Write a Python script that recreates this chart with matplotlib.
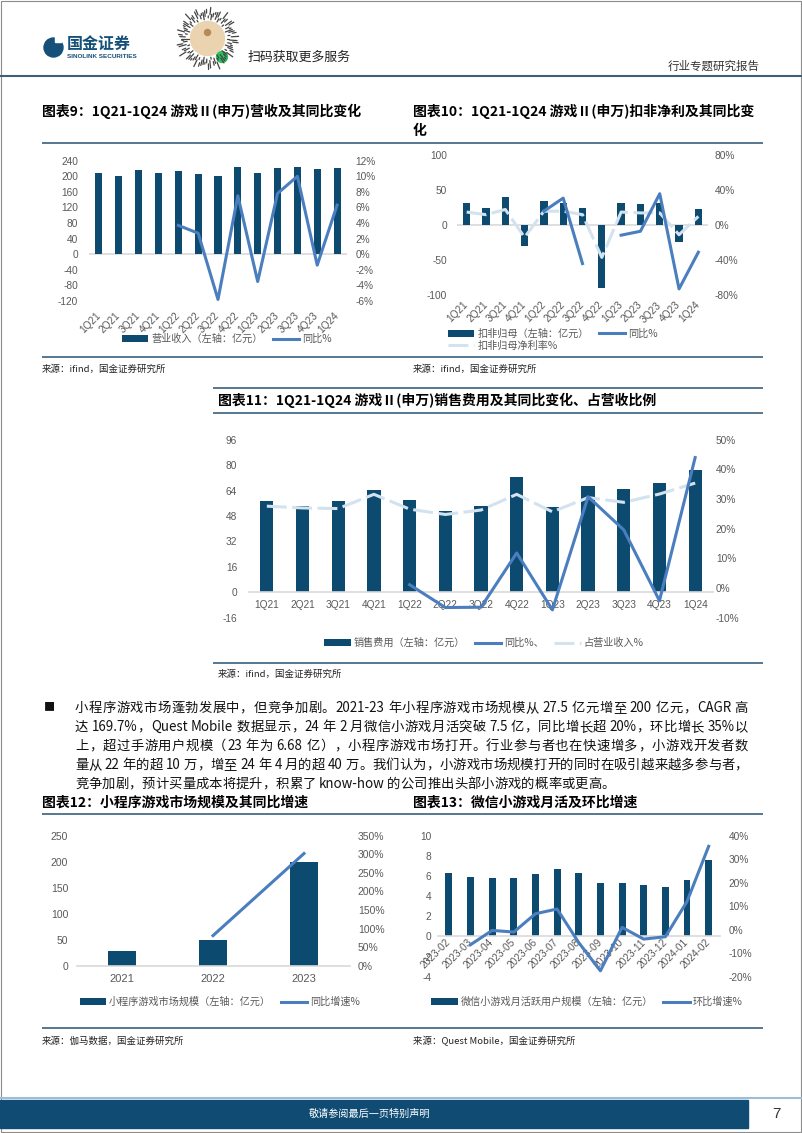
import re
import numpy as np
import matplotlib
matplotlib.use('Agg')
import matplotlib.pyplot as plt
from matplotlib.patches import Rectangle, Circle, Patch
from matplotlib.lines import Line2D

# ---------------- data ----------------
nan = np.nan
quarters = ['1Q21', '2Q21', '3Q21', '4Q21', '1Q22', '2Q22', '3Q22', '4Q22',
            '1Q23', '2Q23', '3Q23', '4Q23', '1Q24']
revenue = [208, 201, 215, 208, 214, 205, 202, 223, 208, 220, 223, 218, 220]
revenue_yoy = [nan, nan, nan, nan, 3.7, 2.7, -5.8, 7.5, -3.5, 7.8, 10.0, -1.4, 6.3]
np_ded = [31, 24, 41, -30, 35, 32, 24, -90, 32, 30, 32, -24, 22.5]
np_ded_yoy = [nan, nan, nan, nan, 16, 31, -44, nan, -11.5, -7, 36, -73, -31]
np_margin = [15, 12, 18, -14, 16, 16, 12, -37, 15, 14, 14, -11, 10]
sales_exp = [57.4, 54.2, 57.4, 64.4, 58.0, 51.0, 54.2, 72.3, 53.5, 67.0, 65.0, 69.0, 77.2]
sales_yoy = [nan, nan, nan, nan, 1.1, -6.6, -6.5, 11.8, -7.4, 30.8, 19.6, -4.3, 44.0]
sales_ratio = [27.6, 27.0, 26.8, 31.6, 26.6, 24.8, 26.3, 31.6, 25.7, 30.5, 28.9, 31.7, 35.4]
mini_years = ['2021', '2022', '2023']
mini_size = [27.5, 50, 200]
mini_yoy = [nan, 81, 302]
months = ['2023-02', '2023-03', '2023-04', '2023-05', '2023-06', '2023-07', '2023-08',
          '2023-09', '2023-10', '2023-11', '2023-12', '2024-01', '2024-02']
mau = [6.3, 5.9, 5.77, 5.77, 6.2, 6.67, 6.3, 5.27, 5.27, 5.07, 4.9, 5.6, 7.6]
mau_mom = [nan, -6.4, -0.3, -1.0, 6.8, 8.8, -5.5, -17.5, 1.0, -4.0, -3.0, 12.0, 35.5]

t9_left = [-120, -80, -40, 0, 40, 80, 120, 160, 200, 240]
t9_right = [-6, -4, -2, 0, 2, 4, 6, 8, 10, 12]
t10_left = [-100, -50, 0, 50, 100]
t10_right = [-80, -40, 0, 40, 80]
t11_left = [-16, 0, 16, 32, 48, 64, 80, 96]
t11_right = [-10, 0, 10, 20, 30, 40, 50]
t12_left = [0, 50, 100, 150, 200, 250]
t12_right = [0, 50, 100, 150, 200, 250, 300, 350]
t13_left = [-4, -2, 0, 2, 4, 6, 8, 10]
t13_right = [-20, -10, 0, 10, 20, 30, 40]

title9 = '图表9：1Q21-1Q24 游戏Ⅱ(申万)营收及其同比变化'
title10a = '图表10：1Q21-1Q24 游戏Ⅱ(申万)扣非净利及其同比变'
title10b = '化'
title11 = '图表11：1Q21-1Q24 游戏Ⅱ(申万)销售费用及其同比变化、占营收比例'
title12 = '图表12：小程序游戏市场规模及其同比增速'
title13 = '图表13：微信小游戏月活及环比增速'
leg9 = ['营业收入（左轴：亿元）', '同比%']
leg10 = ['扣非归母（左轴：亿元）', '扣非归母净利率%', '同比%']
leg11 = ['销售费用（左轴：亿元）', '同比%、', '占营业收入%']
leg12 = ['小程序游戏市场规模（左轴：亿元）', '同比增速%']
leg13 = ['微信小游戏月活跃用户规模（左轴：亿元）', '环比增速%']
src_ifind = '来源：ifind，国金证券研究所'
src12 = '来源：伽马数据，国金证券研究所'
src13 = '来源：Quest Mobile，国金证券研究所'
body_lines = [
    '小程序游戏市场蓬勃发展中，但竞争加剧。2021-23 年小程序游戏市场规模从 27.5 亿元增至 200 亿元，CAGR 高',
    '达 169.7%，Quest Mobile 数据显示，24 年 2 月微信小游戏月活突破 7.5 亿，同比增长超 20%，环比增长 35%以',
    '上，超过手游用户规模（23 年为 6.68 亿），小程序游戏市场打开。行业参与者也在快速增多，小游戏开发者数',
    '量从 22 年的超 10 万，增至 24 年 4 月的超 40 万。我们认为，小游戏市场规模打开的同时在吸引越来越多参与者，',
    '竞争加剧，预计买量成本将提升，积累了 know-how 的公司推出头部小游戏的概率或更高。',
]

# ---------------- style ----------------
W, H = 802, 1133
CJK = ['Noto Sans CJK SC', 'DejaVu Sans']
LAT = ['Liberation Sans', 'Noto Sans CJK SC']
plt.rcParams['font.family'] = CJK
NAVY = '#0D4A70'
BLUE = '#4A7EBF'
LIGHT = '#D3E2EF'
GRAY = '#595959'
RULE = '#3A5F7D'
AXL = '#D9D9D9'
LW = 2.2
DASH = (6.5, 1.8)

fig = plt.figure(figsize=(W / 100, H / 100), dpi=100)
bg = fig.add_axes([0, 0, 1, 1])
bg.set_xlim(0, W)
bg.set_ylim(H, 0)
bg.axis('off')


def axpx(l, t, r, b):
    return fig.add_axes([l / W, 1 - b / H, (r - l) / W, (b - t) / H])


def setup(ax, ax2, yt, rt, lpad, rpad, fs=7.3):
    ax.set_ylim(yt[0], yt[-1])
    ax.set_yticks(yt)
    ax.set_yticklabels([f'{v:g}' for v in yt])
    ax2.set_ylim(rt[0], rt[-1])
    ax2.set_yticks(rt)
    ax2.set_yticklabels([f'{v:g}%' for v in rt])
    for a in (ax, ax2):
        a.set_facecolor('none')
        for s in a.spines.values():
            s.set_visible(False)
    ax.tick_params(axis='y', length=0, pad=lpad, labelsize=fs, labelcolor=GRAY)
    ax2.tick_params(axis='y', length=0, pad=rpad, labelsize=fs, labelcolor=GRAY)
    for lab in ax.get_yticklabels() + ax2.get_yticklabels():
        lab.set_fontfamily(LAT)


def zero_spine(ax):
    ax.spines['bottom'].set_visible(True)
    ax.spines['bottom'].set_position(('data', 0))
    ax.spines['bottom'].set_color(AXL)
    ax.spines['bottom'].set_linewidth(1.2)


def xcats(ax, cats, rot, pad, fs=7.3):
    x = np.arange(len(cats))
    ax.set_xlim(-0.5, len(cats) - 0.5)
    ax.set_xticks(x)
    ax.tick_params(axis='x', length=0, pad=pad)
    if rot:
        ax.set_xticklabels(cats, rotation=45, ha='right', va='center',
                           rotation_mode='anchor', fontsize=fs, color=GRAY, family=LAT)
    else:
        ax.set_xticklabels(cats, fontsize=fs, color=GRAY, family=LAT)
    return x


def legend(handles, labels, cx, cy, ncol, fs=7.3):
    fig.legend(handles, labels, loc='center', bbox_to_anchor=(cx / W, 1 - cy / H),
               bbox_transform=fig.transFigure, ncol=ncol, frameon=False,
               prop={'family': CJK, 'size': fs}, labelcolor=GRAY,
               handlelength=2.6, handleheight=0.7, handletextpad=0.3,
               columnspacing=1.0, labelspacing=0.15, borderpad=0, borderaxespad=0)


bar_h = Patch(facecolor=NAVY)
line_h = Line2D([], [], color=BLUE, lw=LW)
dash_h = Line2D([], [], color=LIGHT, lw=LW, dashes=DASH)

# ---------------- chart 9 ----------------
ax = axpx(89, 160.7, 347, 301)
ax2 = ax.twinx()
setup(ax, ax2, t9_left, t9_right, 8, 6)
x = xcats(ax, quarters, True, 9)
ax.axhline(0, color=AXL, lw=1.2, zorder=0)
ax.bar(x, revenue, width=0.36, color=NAVY, zorder=2)
ax2.plot(x, revenue_yoy, color=BLUE, lw=LW)
legend([bar_h, line_h], leg9, 227, 339, 2)

# ---------------- chart 10 ----------------
ax = axpx(457, 155.3, 708, 295)
ax2 = ax.twinx()
setup(ax, ax2, t10_left, t10_right, 7, 5)
x = xcats(ax, quarters, True, 6)
ax.axhline(0, color=AXL, lw=1.2, zorder=0)
ax.bar(x, np_ded, width=0.38, color=NAVY, zorder=2)
ax2.plot(x, np_margin, color=LIGHT, lw=LW, dashes=DASH)
ax2.plot(x, np_ded_yoy, color=BLUE, lw=LW)
legend([bar_h, dash_h, line_h], leg10, 553, 339.5, 2)

# ---------------- chart 11 ----------------
ax = axpx(249, 439.8, 713, 617.6)
ax2 = ax.twinx()
setup(ax, ax2, t11_left, t11_right, 8.5, 2)
zero_spine(ax)
x = xcats(ax, quarters, False, 5.5)
ax.bar(x, sales_exp, width=0.37, color=NAVY, zorder=2)
ax2.plot(x, sales_ratio, color=LIGHT, lw=LW, dashes=DASH)
ax2.plot(x, sales_yoy, color=BLUE, lw=LW)
legend([bar_h, line_h, dash_h], leg11, 484, 643, 3)

# ---------------- chart 12 ----------------
ax = axpx(76.5, 835.7, 349.5, 965.7)
ax2 = ax.twinx()
setup(ax, ax2, t12_left, t12_right, 6, 6, fs=7.5)
zero_spine(ax)
x = xcats(ax, mini_years, False, 6, fs=8)
ax.bar(x, mini_size, width=0.315, color=NAVY, zorder=2)
ax2.plot(x, mini_yoy, color=BLUE, lw=LW)
legend([bar_h, line_h], leg12, 220, 1002, 2)

# ---------------- chart 13 ----------------
ax = axpx(438, 835.7, 719.5, 976.7)
ax2 = ax.twinx()
setup(ax, ax2, t13_left, t13_right, 5, 6.5)
zero_spine(ax)
x = xcats(ax, months, True, 3)
ax.bar(x, mau, width=0.32, color=NAVY, zorder=2)
ax2.plot(x, mau_mom, color=BLUE, lw=LW)
legend([bar_h, line_h], leg13, 587, 1002, 2)

# ---------------- page decorations ----------------
def rule(x0, x1, y, color=RULE, lw=1.2):
    bg.plot([x0, x1], [y, y], color=color, lw=lw, solid_capstyle='butt')


# page border
bg.add_patch(Rectangle((0.5, 0.5), W - 1.5, H - 1.5, fill=False, ec='#8C8C8C', lw=0.8))

# header
bg.add_patch(Circle((53.5, 47.5), 9.5, color='#15507A'))
bg.add_patch(Rectangle((55, 36), 6, 6, color='white'))
bg.text(67, 44, '国金证券', fontsize=11.5, weight='bold', color='#15507A', va='center')
bg.text(67, 56.5, 'SINOLINK SECURITIES', fontsize=4.6, weight='bold', color='#15507A',
        va='center', family=LAT)
# mini-program code style badge
qc = (207.5, 38.5)
for k in range(90):
    a = 2 * np.pi * k / 90
    r0 = 19 + (k * 7 % 5) * 1.6
    r1 = r0 + 2 + (k * 11 % 4) * 1.8
    bg.plot([qc[0] + r0 * np.cos(a), qc[0] + r1 * np.cos(a)],
            [qc[1] + r0 * np.sin(a), qc[1] + r1 * np.sin(a)],
            color='#444444', lw=0.9, solid_capstyle='round')
bg.add_patch(Circle(qc, 17, color='#EBD3B0'))
bg.add_patch(Circle((qc[0], qc[1] - 6), 3, color='#B58A55'))
bg.add_patch(Circle((222, 57), 5.5, color='#2DBE60'))
bg.text(248, 57, '扫码获取更多服务', fontsize=9.3, color='#222222', va='center')
bg.text(760, 66, '行业专题研究报告', fontsize=8.3, color='#333333', va='center', ha='right')
rule(0, W, 76, color='#3E5F7A', lw=1.5)

# titles and rules
TS = 10
bg.text(42, 111, title9, fontsize=TS, weight='bold', va='center')
bg.text(413, 111, title10a, fontsize=TS, weight='bold', va='center')
bg.text(413, 131, title10b, fontsize=TS, weight='bold', va='center')
rule(42, 763, 143)
rule(42, 763, 357)
bg.text(42, 369, src_ifind, fontsize=6.8, va='center', color='#222222')
bg.text(413, 369, src_ifind, fontsize=6.8, va='center', color='#222222')

rule(213, 763, 388)
bg.text(218, 400, title11, fontsize=TS, weight='bold', va='center')
rule(213, 763, 413)
rule(213, 763, 663)
bg.text(218, 674, src_ifind, fontsize=6.8, va='center', color='#222222')

bg.text(42, 803, title12, fontsize=TS, weight='bold', va='center')
bg.text(413, 803, title13, fontsize=TS, weight='bold', va='center')
rule(42, 763, 814)
rule(42, 763, 1028)
bg.text(42, 1041, src12, fontsize=6.8, va='center', color='#222222')
bg.text(413, 1041, src13, fontsize=6.8, va='center', color='#222222')

# body text (justified)
renderer = fig.canvas.get_renderer()
BFS = 9.6


def tokens(s):
    return re.findall(r'[A-Za-z0-9.%\-]+| |[^A-Za-z0-9.%\- ]', s)


def draw_line(s, x0, yc, width=None, fs=BFS):
    toks = tokens(s)
    px = fs * 100 / 72
    ws = []
    for t in toks:
        if t == ' ':
            ws.append(0.22 * px)
        else:
            tt = bg.text(0, 0, t, fontsize=fs)
            ws.append(tt.get_window_extent(renderer).width)
            tt.remove()
    extra = 0
    if width is not None and len(toks) > 1:
        extra = (width - sum(ws)) / (len(toks) - 1)
    xx = x0
    yb = yc + 0.36 * px
    for t, w in zip(toks, ws):
        if t != ' ':
            bg.text(xx, yb, t, fontsize=fs, va='baseline', ha='left', color='#111111')
        xx += w + extra


bg.text(49, 707, '■', fontsize=8, va='center', ha='center', color='#111111')
ys = [707, 726, 745, 764, 783]
for i, (s, yy) in enumerate(zip(body_lines, ys)):
    draw_line(s, 75, yy, None if i == len(body_lines) - 1 else 673)

# footer
rule(0, W, 1098, color='#9DBDD6', lw=1.5)
bg.add_patch(Rectangle((0, 1100), 748, 28, color='#0F4B73'))
bg.text(370, 1114, '敬请参阅最后一页特别声明', fontsize=7.3, color='white', ha='center', va='center')
bg.text(776, 1114, '7', fontsize=11, color='#333333', ha='center', va='center', family=LAT)

fig.savefig('out.png', dpi=100)
